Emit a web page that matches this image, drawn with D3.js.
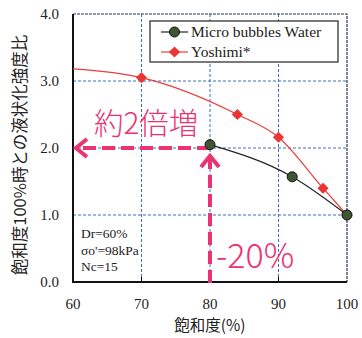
<!DOCTYPE html>
<html>
<head>
<meta charset="utf-8">
<script src="https://cdn.jsdelivr.net/npm/d3@7"></script>
<style>
  body { margin: 0; background: #fff; }
  svg { display: block; }
</style>
</head>
<body>
<div id="chart"></div>
<script>
// data
const xTicks = [60, 70, 80, 90, 100];
const yTicks = [0, 1, 2, 3, 4];

const bubbleSat = [80, 92, 100];
const bubbleRatio = [2.05, 1.57, 1.0];

const yoshimiSat = [70, 84, 90, 96.5, 100];
const yoshimiRatio = [3.05, 2.5, 2.16, 1.4, 1.0];
// the red curve starts at the left edge without a marker
const yoshimiStart = [60, 3.18];

const conditions = ["Dr=60%", "σo'=98kPa", "Nc=15"];
const legendNames = ["Micro bubbles Water", "Yoshimi*"];

const W = 362, H = 338;
const m = { left: 73, right: 15, top: 14, bottom: 56 };

const svg = d3.select("#chart").append("svg")
  .attr("width", W).attr("height", H);

const x = d3.scaleLinear().domain([60, 100]).range([m.left, W - m.right]);
const y = d3.scaleLinear().domain([0, 4]).range([H - m.bottom, m.top]);

const serif = "'Liberation Serif', 'Times New Roman', serif";
const jp = "'Noto Sans CJK JP', sans-serif";
const pink = "#ea3370";

// grid
const grid = svg.append("g").attr("stroke", "#3b6fc6").attr("stroke-width", 1)
  .attr("stroke-dasharray", "3,2");
grid.selectAll("line.v").data([70, 80, 90]).enter().append("line")
  .attr("x1", d => x(d)).attr("x2", d => x(d))
  .attr("y1", y(0)).attr("y2", y(4));
grid.selectAll("line.h").data([1, 2, 3]).enter().append("line")
  .attr("x1", x(60)).attr("x2", x(100))
  .attr("y1", d => y(d)).attr("y2", d => y(d));

// top and right frame, dashed dark
svg.append("path")
  .attr("d", `M${x(60)},${y(4)}H${x(100)}V${y(0)}`)
  .attr("fill", "none").attr("stroke", "#26345a").attr("stroke-width", 1.2)
  .attr("stroke-dasharray", "3,1");

// small inner ticks on the bottom axis
svg.selectAll("line.tick").data([70, 90]).enter().append("line")
  .attr("x1", d => x(d)).attr("x2", d => x(d))
  .attr("y1", y(0)).attr("y2", y(0) - 5)
  .attr("stroke", "#000").attr("stroke-width", 1);

// left and bottom axis lines
svg.append("path")
  .attr("d", `M${x(60)},${y(4)}V${y(0)}H${x(100)}`)
  .attr("fill", "none").attr("stroke", "#111").attr("stroke-width", 2);

// tick labels
svg.selectAll("text.yt").data(yTicks).enter().append("text")
  .attr("x", 59).attr("y", d => y(d) + 5)
  .attr("text-anchor", "end")
  .attr("font-family", serif).attr("font-size", 15).attr("fill", "#222")
  .text(d => d.toFixed(1));
svg.selectAll("text.xt").data(xTicks).enter().append("text")
  .attr("x", d => x(d)).attr("y", 309)
  .attr("text-anchor", "middle")
  .attr("font-family", serif).attr("font-size", 15).attr("fill", "#222")
  .text(d => d);

// axis titles
svg.append("text")
  .attr("transform", `translate(26,${(y(0) + y(4)) / 2 + 7}) rotate(-90)`)
  .attr("text-anchor", "middle")
  .attr("font-family", jp).attr("font-size", 16.5).attr("fill", "#222")
  .text("飽和度100%時との液状化強度比");
svg.append("text")
  .attr("x", x(80)).attr("y", 331)
  .attr("text-anchor", "middle")
  .attr("font-family", jp).attr("font-size", 15.5).attr("fill", "#222")
  .text("飽和度(%)");

// pink arrows
const arrows = svg.append("g").attr("stroke", pink).attr("fill", "none")
  .attr("stroke-width", 4);
arrows.append("line")
  .attr("x1", x(80)).attr("x2", x(60) + 4)
  .attr("y1", y(2)).attr("y2", y(2))
  .attr("stroke-dasharray", "13,6");
arrows.append("path")
  .attr("d", `M${x(60) + 14},${y(2) - 9}L${x(60) + 3},${y(2)}L${x(60) + 14},${y(2) + 9}`)
  .attr("stroke-linejoin", "miter");
arrows.append("line")
  .attr("x1", x(80)).attr("x2", x(80))
  .attr("y1", y(0) + 1).attr("y2", y(2) + 8)
  .attr("stroke-dasharray", "13,6");
arrows.append("path")
  .attr("d", `M${x(80) - 9},${y(2) + 19}L${x(80)},${y(2) + 8}L${x(80) + 9},${y(2) + 19}`);

svg.append("text")
  .attr("x", 94).attr("y", 134)
  .attr("font-family", jp).attr("font-size", 29.5).attr("font-weight", 300)
  .attr("fill", pink)
  .text("約2倍増");
svg.append("text")
  .attr("x", 216).attr("y", 268)
  .attr("font-family", jp).attr("font-size", 34).attr("font-weight", 300)
  .attr("fill", pink)
  .text("-20%");

// conditions
svg.selectAll("text.cond").data(conditions).enter().append("text")
  .attr("x", 81).attr("y", (d, i) => 238 + i * 16.5)
  .attr("font-family", serif).attr("font-size", 13.5).attr("fill", "#222")
  .text(d => d);

// series
const yoshimi = [yoshimiStart].concat(yoshimiSat.map((s, i) => [s, yoshimiRatio[i]]));
const bubbles = bubbleSat.map((s, i) => [s, bubbleRatio[i]]);
const line = d3.line().x(d => x(d[0])).y(d => y(d[1])).curve(d3.curveMonotoneX);

svg.append("path").datum(yoshimi)
  .attr("d", line).attr("fill", "none")
  .attr("stroke", "#ee3b3b").attr("stroke-width", 1.2);
svg.append("path").datum(bubbles)
  .attr("d", line).attr("fill", "none")
  .attr("stroke", "#222").attr("stroke-width", 1.2);

svg.selectAll("path.yo").data(yoshimi.slice(1)).enter().append("path")
  .attr("transform", d => `translate(${x(d[0])},${y(d[1])}) rotate(45)`)
  .attr("d", d3.symbol().type(d3.symbolSquare).size(62))
  .attr("fill", "#ee3333");
svg.selectAll("circle.mb").data(bubbles).enter().append("circle")
  .attr("cx", d => x(d[0])).attr("cy", d => y(d[1])).attr("r", 5)
  .attr("fill", "#3e5631").attr("stroke", "#111").attr("stroke-width", 1);

// legend
const lg = svg.append("g").attr("transform", "translate(150,21)");
lg.append("rect").attr("width", 188).attr("height", 41)
  .attr("fill", "#fff").attr("stroke", "#222").attr("stroke-width", 1.2);
const rows = lg.selectAll("g.row").data(legendNames).enter().append("g")
  .attr("transform", (d, i) => `translate(0,${11 + i * 20})`);
rows.append("line").attr("x1", 11).attr("x2", 38)
  .attr("stroke", (d, i) => i === 0 ? "#222" : "#ee3b3b").attr("stroke-width", 1.2);
rows.filter((d, i) => i === 0).append("circle")
  .attr("cx", 24.5).attr("r", 5)
  .attr("fill", "#3e5631").attr("stroke", "#111");
rows.filter((d, i) => i === 1).append("path")
  .attr("transform", "translate(24.5,0) rotate(45)")
  .attr("d", d3.symbol().type(d3.symbolSquare).size(62))
  .attr("fill", "#ee3333");
rows.append("text").attr("x", 41).attr("y", 5)
  .attr("font-family", serif).attr("font-size", 15.5).attr("fill", "#222")
  .text(d => d);
</script>
</body>
</html>
